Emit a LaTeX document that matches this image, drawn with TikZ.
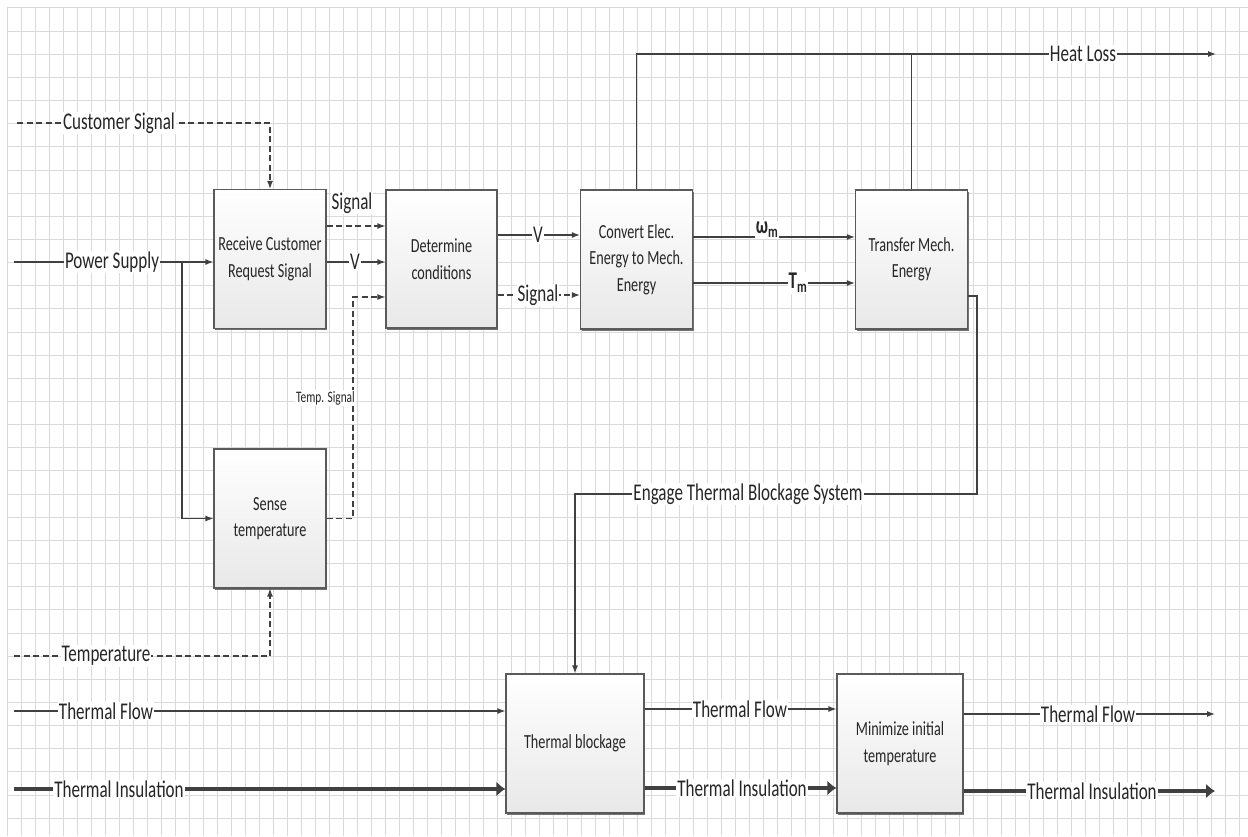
\documentclass[tikz,border=0pt]{standalone}
\usepackage{fontspec}
\setmainfont[FakeStretch=0.71]{Carlito}
\usetikzlibrary{arrows.meta,shadows}
\definecolor{linec}{HTML}{404040}
\definecolor{boxc}{HTML}{5A5A5A}
\definecolor{txt}{HTML}{262626}
\definecolor{gridc}{HTML}{DADADA}
\tikzset{
  fbox/.style={draw=boxc, line width=1.2pt, top color=white, bottom color=black!9,
    minimum width=112pt, minimum height=139pt, align=center, text=txt,
    font=\fontsize{20}{26.5}\selectfont, inner sep=2pt,
    drop shadow={shadow xshift=1pt, shadow yshift=-1.6pt, fill=black!55, opacity=1}},
  flow/.style={draw=linec, line width=1.2pt, -{Latex[length=8pt,width=6pt]}},
  sig/.style={flow, dash pattern=on 6pt off 3.5pt},
  ins/.style={draw=linec, line width=4pt, -{Latex[length=9pt,width=15pt]}},
  plain/.style={draw=linec, line width=1.2pt},
  lbl/.style={fill=white, inner sep=1pt, text=txt, font=\fontsize{24}{26}\selectfont},
  slbl/.style={lbl, font=\fontsize{16}{18}\selectfont},
  gline/.style={draw=gridc, line width=0.8pt},
}
\begin{document}
\begin{tikzpicture}[x=1pt,y=-1pt]
\useasboundingbox (0,0) rectangle (1248,836);
\fill[white] (0,0) rectangle (1248,836);
% grid
\foreach \i in {0,...,88} \draw[gline] ({7+14*\i},8) -- ({7+14*\i},836);
\foreach \j in {0,...,35} \draw[gline] (7,{7.85+23.15*\j}) -- (1248,{7.85+23.15*\j});

% boxes
\node[fbox] (rcv) at (270,259) {Receive Customer\\Request Signal};
\node[fbox, minimum width=111pt, minimum height=138pt] (det) at (441.5,259) {Determine\\conditions};
\node[fbox] (conv) at (636.5,259.5) {Convert Elec.\\Energy to Mech.\\Energy};
\node[fbox] (trans) at (911.5,259.5) {Transfer Mech.\\Energy};
\node[fbox] (sense) at (270,518.5) {Sense\\temperature};
\node[fbox, minimum width=138pt] (block) at (575,743.5) {Thermal blockage};
\node[fbox, minimum width=126pt] (mini) at (900,743.5) {Minimize initial\\temperature};

% helper coordinates
\coordinate (r226) at (0,226);
\coordinate (r262) at (0,262);
\coordinate (r235) at (0,235);
\coordinate (r295) at (0,295);
\coordinate (r237) at (0,237);
\coordinate (r283) at (0,283);
\coordinate (r709) at (0,709);
\coordinate (r788) at (0,788);

% customer signal
\coordinate (csS) at (17,123);
\draw[sig] (csS) -| (rcv.north);
\node[lbl] (csL) at (119,123) {Customer Signal};

% power supply
\coordinate (psS) at (14,262);
\coordinate (br) at (182,262);
\draw[flow] (psS) -- (psS -| rcv.west);
\draw[flow] (br) |- (sense.west);
\node[lbl] (psL) at (112,262) {Power Supply};

% rcv -> det
\draw[sig] (rcv.east |- r226) -- (det.west |- r226);
\node[lbl] (sigL1) at (352,203) {Signal};
\draw[flow] (rcv.east |- r262) -- (det.west |- r262);
\node[lbl] (vL1) at (355,262) {V};

% sense -> det
\coordinate (tc) at (353,297);
\draw[sig] (sense.east) -| (tc) -- (det.west |- tc);
\node[slbl, anchor=east] (tsL) at (356,398) {Temp. Signal};

% det -> conv
\draw[flow] (det.east |- r235) -- (conv.west |- r235);
\node[lbl] (vL2) at (538,235) {V};
\draw[sig] (det.east |- r295) -- (conv.west |- r295);
\node[lbl] (sigL2) at (538,295) {Signal};

% conv -> trans
\draw[flow] (conv.east |- r237) -- (trans.west |- r237);
\node[lbl] (wL) at (767,230) {\bfseries ω\textsubscript{m}};
\draw[flow] (conv.east |- r283) -- (trans.west |- r283);
\node[lbl] (tL) at (798,283) {\bfseries T\textsubscript{m}};

% heat loss
\coordinate (hlE) at (1216,54);
\draw[flow] (conv.north) |- (hlE);
\draw[plain] (trans.north) -- (trans.north |- hlE);
\node[lbl] (hlL) at (1083,54) {Heat Loss};

% engage thermal blockage
\coordinate (e1) at (977,296);
\coordinate (e2) at (977,494);
\draw[flow] (trans.east |- e1) -- (e1) -- (e2) -| (block.north);
\node[lbl] (engL) at (748,494) {Engage Thermal Blockage System};

% temperature
\coordinate (tS) at (14,656);
\draw[sig] (tS) -| (sense.south);
\node[lbl] (tempL) at (106,656) {Temperature};

% thermal flow / insulation in
\coordinate (tfS) at (14,711);
\draw[flow] (tfS) -- (tfS -| block.west);
\node[lbl] (tfL1) at (106,711) {Thermal Flow};
\coordinate (tiS) at (14,789);
\draw[ins] (tiS) -- (tiS -| block.west);
\node[lbl] (tiL1) at (119,789) {Thermal Insulation};

% block -> mini
\draw[flow] (block.east |- r709) -- (mini.west |- r709);
\node[lbl] (tfL2) at (740,709) {Thermal Flow};
\draw[ins] (block.east |- r788) -- (mini.west |- r788);
\node[lbl] (tiL2) at (742,788) {Thermal Insulation};

% outputs
\coordinate (tfE) at (1215,714);
\draw[flow] (mini.east |- tfE) -- (tfE);
\node[lbl] (tfL3) at (1088,714) {Thermal Flow};
\coordinate (tiE) at (1215,791);
\draw[ins] (mini.east |- tiE) -- (tiE);
\node[lbl] (tiL3) at (1092,791) {Thermal Insulation};
\end{tikzpicture}
\end{document}
